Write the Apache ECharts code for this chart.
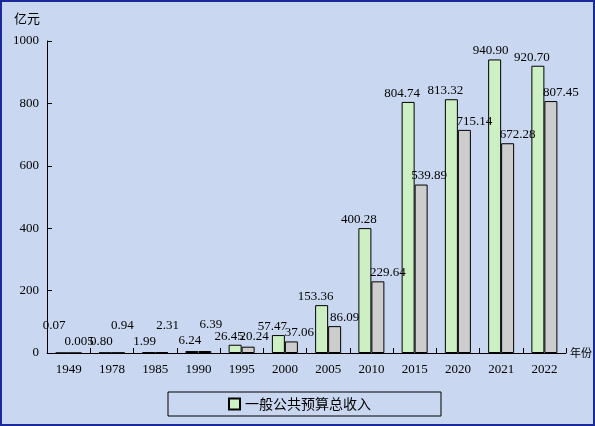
<!DOCTYPE html><html><head><meta charset="utf-8"><script src="https://cdn.jsdelivr.net/npm/echarts@6/dist/echarts.min.js"></script></head>
<body style="margin:0"><div id="c" style="width:595px;height:426px"></div><script>
const categories=['1949','1978','1985','1990','1995','2000','2005','2010','2015','2020','2021','2022'];
const revenue=[0.07,0.80,1.99,6.24,26.45,57.47,153.36,400.28,804.74,813.32,940.90,920.70];
const second=[0.005,0.94,2.31,6.39,20.24,37.06,86.09,229.64,539.89,715.14,672.28,807.45];
const labels1=['0.07','0.80','1.99','6.24','26.45','57.47','153.36','400.28','804.74','813.32','940.90','920.70'];
const labels2=['0.005','0.94','2.31','6.39','20.24','37.06','86.09','229.64','539.89','715.14','672.28','807.45'];
const off1=[[-8,-18],[-4,-2],[-4,-2],[-2,-2],[-6,0],[-6,0],[-6,0],[-6,0],[-6,0],[-6,0],[-4,0],[-6,0]];
const off2=[[4,-2],[4,-18],[6,-18],[6,-18],[6,-2],[8,0],[10,0],[10,0],[8,0],[10,0],[10,0],[10,0]];
const f='"Liberation Serif","DejaVu Serif",serif';
const chart=echarts.init(document.getElementById('c'));
chart.setOption({
 backgroundColor:'#c9d8f0',
 animation:false,
 graphic:[{type:'rect',shape:{x:1,y:1,width:593,height:424},style:{fill:'none',stroke:'#1a2a9a',lineWidth:2}},
  {type:'text',left:14,top:12,style:{text:'亿元',font:'13px "Noto Sans CJK SC"',fill:'#000'}}],
 grid:{left:47,right:18,top:41,bottom:73},
 legend:{data:[{name:'一般公共预算总收入',icon:'rect'}],bottom:10,left:168,itemWidth:11,itemHeight:11,padding:[5,70,5,60],
  borderColor:'#000',borderWidth:1,textStyle:{fontFamily:'Noto Sans CJK SC',fontSize:14,color:'#000'}},
 xAxis:{type:'category',data:categories,name:'年份',nameGap:4,nameTextStyle:{fontFamily:'Noto Sans CJK SC',fontSize:11,color:'#000',padding:[14,0,0,0]},
  axisLine:{lineStyle:{color:'#000'}},axisTick:{show:true,inside:true,length:5,lineStyle:{color:'#000'}},
  axisLabel:{fontFamily:f,fontSize:13,color:'#000',margin:10}},
 yAxis:{type:'value',min:0,max:1000,interval:200,splitLine:{show:false},
  axisLine:{show:true,lineStyle:{color:'#000'}},axisTick:{show:true,inside:true,length:5,lineStyle:{color:'#000'}},
  axisLabel:{fontFamily:f,fontSize:13,color:'#000',formatter:v=>String(v)}},
 series:[
  {name:'一般公共预算总收入',type:'bar',barWidth:13,barGap:'0%',
   itemStyle:{color:'#ccf0c4',borderColor:'#000',borderWidth:1},
   data:revenue.map((v,i)=>({value:v,label:{offset:off1[i],formatter:labels1[i]}})),
   label:{show:true,position:'top',fontFamily:f,fontSize:13,color:'#000',distance:2}},
  {name:'s2',type:'bar',barWidth:13,
   itemStyle:{color:'#cdcdcd',borderColor:'#000',borderWidth:1},
   data:second.map((v,i)=>({value:v,label:{offset:off2[i],formatter:labels2[i]}})),
   label:{show:true,position:'top',fontFamily:f,fontSize:13,color:'#000',distance:2}}
 ]});
</script></body></html>
